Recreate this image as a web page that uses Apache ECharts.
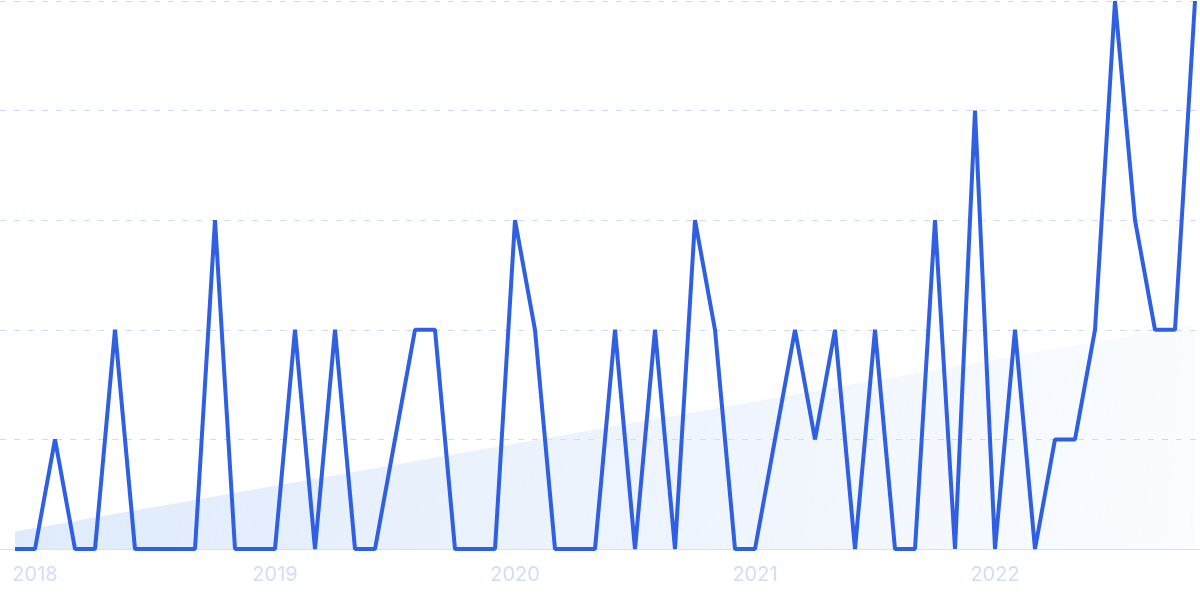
<!DOCTYPE html>
<html>
<head>
<meta charset="utf-8">
<script src="https://cdn.jsdelivr.net/npm/echarts@6/dist/echarts.min.js"></script>
<style>html,body{margin:0;padding:0;background:#fff}#c{width:1200px;height:600px}</style>
</head>
<body>
<div id="c"></div>
<script>
// Monthly values, Dec 2017 .. Nov 2022
var values = [0,0,1,0,0,2,0,0,0,0,3,0,0,0,2,0,2,0,0,1,2,2,0,0,0,3,2,0,0,0,2,0,2,0,3,2,0,0,1,2,1,2,0,2,0,0,3,0,4,0,2,0,1,1,2,5,3,2,2,5];
var yearLabels = ['2018','2019','2020','2021','2022'];
var yearIndex = [1,13,25,37,49];
var trendEnds = [0.16, 2.05];

var chart = echarts.init(document.getElementById('c'));
var lineData = values.map(function(v,i){return [i,v];});
var trendData = [[0,trendEnds[0]],[values.length-1,trendEnds[1]]];
chart.setOption({
  animation:false,
  grid:{left:0,right:0,top:1,bottom:51},
  xAxis:{
    type:'value', min:-0.75, max:values.length-0.75,
    splitLine:{show:false},
    axisTick:{show:false},
    axisLine:{show:true,lineStyle:{color:'#cfe3fb',width:1}},
    axisLabel:{
      customValues:yearIndex,
      formatter:function(v){var k=yearIndex.indexOf(Math.round(v));return k>=0?yearLabels[k]:'';},
      color:'#d2ddf6', fontSize:20, fontFamily:'Inter', margin:16
    }
  },
  yAxis:{
    type:'value', min:0, max:5, interval:1,
    axisLabel:{show:false}, axisLine:{show:false}, axisTick:{show:false},
    splitLine:{show:true,lineStyle:{color:'#ccdcf8',type:[6,8],width:1}}
  },
  series:[
    {type:'line', data:trendData, symbol:'none', silent:true,
     lineStyle:{width:0},
     areaStyle:{origin:'start',opacity:1,color:new echarts.graphic.LinearGradient(0,0,1,0.4,[{offset:0,color:'rgba(212,228,250,0.75)'},{offset:1,color:'rgba(212,228,250,0.12)'}])}},
    {type:'line', data:lineData, symbol:'none', smooth:false,
     lineStyle:{color:'#2f5fe2',width:4}}
  ]
});
</script>
</body>
</html>
